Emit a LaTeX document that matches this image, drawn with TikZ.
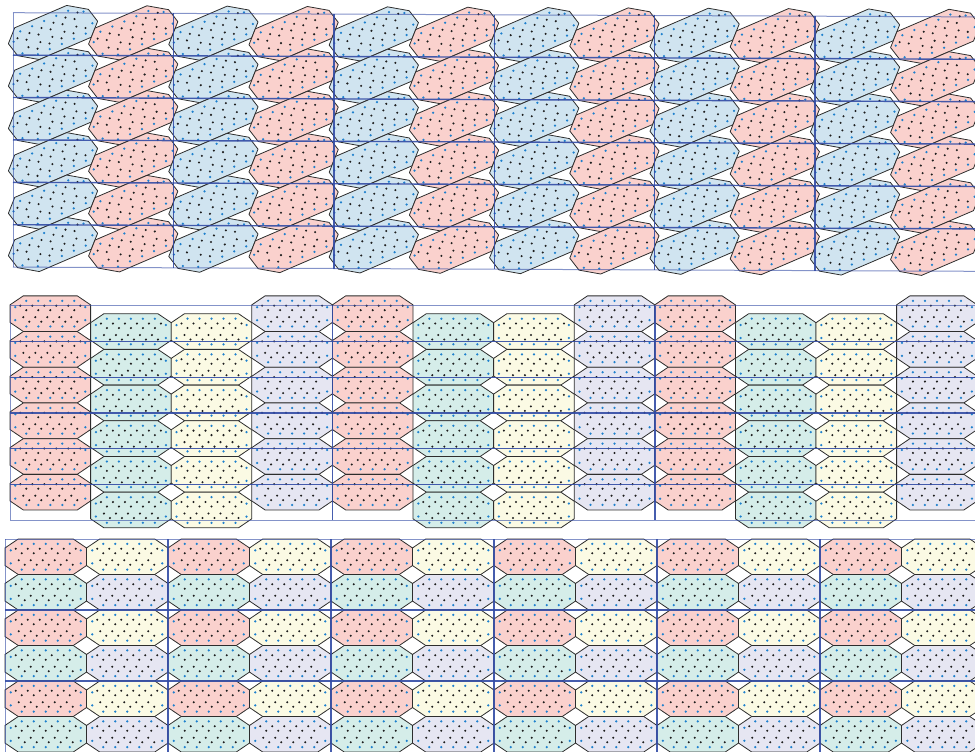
\documentclass[tikz,border=0pt]{standalone}
\definecolor{cblue}{RGB}{208,228,240}
\definecolor{cpink}{RGB}{250,209,205}
\definecolor{cteal}{RGB}{213,237,233}
\definecolor{cyel}{RGB}{251,250,228}
\definecolor{clav}{RGB}{230,230,242}
\definecolor{dotblk}{RGB}{30,30,30}
\definecolor{dotblu}{RGB}{30,128,205}
\definecolor{gridb}{RGB}{50,75,165}
\definecolor{edgec}{RGB}{45,45,45}
\tikzset{
  oct/.style={draw=edgec,line width=0.8pt,line join=round},
  gridin/.style={draw=gridb,line width=1.4pt,opacity=0.9},
  gridout/.style={draw=gridb,line width=1pt,opacity=0.6},
  db/.style={radius=1.25pt},
  dk/.style={radius=1.15pt},
}
\newcommand\octdots{%
 \fill[dotblu] (-24,-12.8) circle[db] (-12,-12.8) circle[db] (0,-12.8) circle[db]
   (12,-12.8) circle[db] (24,-12.8) circle[db]
   (-24,12.8) circle[db] (-12,12.8) circle[db] (0,12.8) circle[db]
   (12,12.8) circle[db] (24,12.8) circle[db]
   (-35,-6.5) circle[db] (-35,6.5) circle[db] (35,-6.5) circle[db] (35,6.5) circle[db];
 \fill[dotblk] (-30,-8) circle[dk] (-18,-8) circle[dk] (-6,-8) circle[dk]
   (6,-8) circle[dk] (18,-8) circle[dk] (30,-8) circle[dk]
   (-24,-3.5) circle[dk] (-12,-3.5) circle[dk] (0,-3.5) circle[dk]
   (12,-3.5) circle[dk] (24,-3.5) circle[dk]
   (-27,3.5) circle[dk] (-15,3.5) circle[dk] (-3,3.5) circle[dk]
   (9,3.5) circle[dk] (21,3.5) circle[dk]
   (-21,8) circle[dk] (-9,8) circle[dk] (3,8) circle[dk]
   (15,8) circle[dk] (27,8) circle[dk];
}
% horizontal octagon: centre x, centre y, colour, half width
\newcommand\octH[4]{%
 \begin{scope}[shift={(#1,#2)}]
  \filldraw[oct,fill=#3] ({-#4},-8.8) -- ({-#4+13.3},-17.8) -- ({#4-13.3},-17.8) -- ({#4},-8.8)
     -- ({#4},8.8) -- ({#4-13.3},17.8) -- ({-#4+13.3},17.8) -- ({-#4},8.8) -- cycle;
  \octdots
 \end{scope}}
% slanted octagon of the top panel
\newcommand\octT[3]{%
 \begin{scope}[shift={(#1,#2)},x={(1pt,0.43pt)},y={(0.69pt,-0.8925pt)}]
  \filldraw[oct,fill=#3] (-40,-6.7) -- (-26,-17.8) -- (26,-17.8) -- (40,-6.7)
     -- (40,6.7) -- (26,17.8) -- (-26,17.8) -- (-40,6.7) -- cycle;
  \octdots
 \end{scope}}
\begin{document}
\begin{tikzpicture}[x=1pt,y=-1pt]
\useasboundingbox (0,0) rectangle (975,752);
\clip (0,0) rectangle (975,752);
% ---------- top panel ----------
\foreach \j in {0,...,5}{
 \foreach \i in {0,...,11}{
  \pgfmathsetmacro\cx{53+80.2*\i}
  \pgfmathsetmacro\cy{32.5+0.35*\i+42.4*\j}
  \pgfmathtruncatemacro\m{mod(\i,2)}
  \ifnum\m=0 \def\cc{cblue}\else\def\cc{cpink}\fi
  \octT{\cx}{\cy}{\cc}
 }}
\foreach \j in {1,...,5}{
  \draw[gridin] (13,{12.7+42.4*\j}) -- (975.4,{16.9+42.4*\j});}
\foreach \j in {0,6}{
  \draw[gridout] (13,{12.7+42.4*\j}) -- (975.4,{16.9+42.4*\j});}
\foreach \m in {1,...,5}{
  \draw[gridin] ({13+160.4*\m},{12.7+0.7*\m}) -- ({13+160.4*\m},{267.1+0.7*\m});}
\draw[gridout] (13,12.7) -- (13,267.1);
% ---------- middle panel ----------
\foreach \k in {0,...,11}{
 \foreach \j in {0,...,5}{
  \pgfmathsetmacro\cx{50.3+80.6*\k}
  \pgfmathtruncatemacro\m{mod(\k,4)}
  \ifcase\m \def\cc{cpink}\def\off{0}\or \def\cc{cteal}\def\off{17.85}\or \def\cc{cyel}\def\off{17.85}\or \def\cc{clav}\def\off{0}\fi
  \pgfmathsetmacro\cy{313.65+35.7*\j+\off}
  \octH{\cx}{\cy}{\cc}{40.3}
 }}
\foreach \j in {1,...,5}{
  \draw[gridin] (10,{305.8+35.7*\j}) -- (975,{305.8+35.7*\j});}
\foreach \j in {0,6}{
  \draw[gridout] (10,{305.8+35.7*\j}) -- (975,{305.8+35.7*\j});}
\draw[gridout] (10,305.8) -- (10,520);
\foreach \m in {1,2}{
  \draw[gridin] ({10+322.5*\m},305.8) -- ({10+322.5*\m},520);}
% ---------- bottom panel ----------
\foreach \i in {0,...,11}{
 \foreach \j in {0,...,5}{
  \pgfmathsetmacro\cx{45.75+81.5*\i}
  \pgfmathsetmacro\cy{556.75+35.5*\j}
  \pgfmathtruncatemacro\m{mod(\i,2)+2*mod(\j,2)}
  \ifcase\m \def\cc{cpink}\or \def\cc{cyel}\or \def\cc{cteal}\or \def\cc{clav}\fi
  \octH{\cx}{\cy}{\cc}{40.75}
 }}
\foreach \k in {1,2}{
  \draw[gridin] (5,{539+71*\k}) -- (975,{539+71*\k});}
\draw[gridout] (5,539) -- (975,539);
\draw[gridout] (5,539) -- (5,752);
\foreach \m in {1,...,5}{
  \draw[gridin] ({5+163*\m},539) -- ({5+163*\m},752);}
\end{tikzpicture}
\end{document}
